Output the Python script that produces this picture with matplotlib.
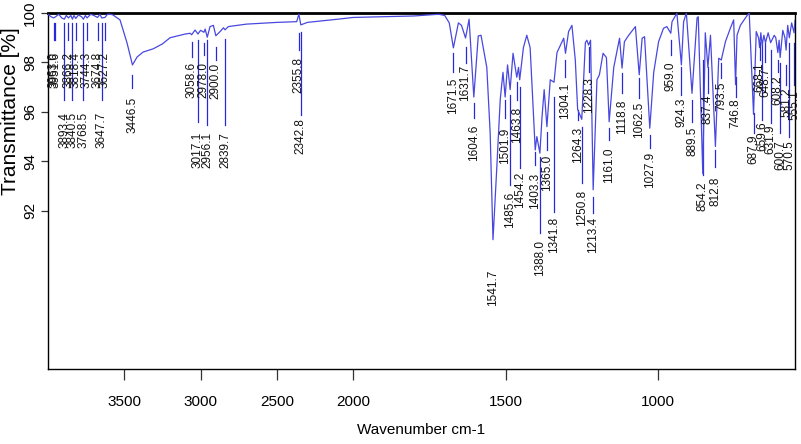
import numpy as np
import matplotlib
matplotlib.use("Agg")
import matplotlib.pyplot as plt

# ---------------- data ----------------
wavenumber = [4000, 3980, 3963, 3950, 3930, 3910, 3893, 3880, 3866, 3850, 3840, 3830,
              3818, 3800, 3780, 3768, 3755, 3744, 3720, 3700, 3675, 3660, 3648, 3627,
              3610, 3590, 3574, 3528, 3482, 3446.5, 3416, 3377, 3311, 3250, 3200, 3100,
              3068, 3058.6, 3036, 3017.1, 3000, 2978, 2970, 2956.1, 2938, 2916, 2900,
              2872, 2850, 2839.7, 2818, 2700, 2500, 2370, 2355.8, 2342.8, 2300, 2100,
              2000, 1900, 1800, 1720, 1700, 1685, 1671.5, 1655, 1645, 1631.7, 1620,
              1604.6, 1590, 1581, 1562, 1551, 1541.7, 1529, 1518, 1509, 1501.9, 1494,
              1485.6, 1476, 1463.8, 1458, 1454.2, 1442, 1431, 1420, 1403.3, 1398,
              1388.0, 1381, 1374, 1365.0, 1354, 1341.8, 1332, 1310, 1304.1, 1294, 1283,
              1272, 1264.3, 1250.8, 1239, 1234, 1228.3, 1222, 1213.4, 1201, 1193, 1181,
              1170, 1161.0, 1146, 1127, 1118.8, 1111, 1097, 1075, 1062.5, 1053, 1045,
              1027.9, 1015, 999, 983, 972, 959.0, 955, 939, 924.3, 917, 908, 889.5, 873,
              869, 854.2, 846, 837.4, 829, 812.8, 802, 793.5, 780, 764, 753, 746.8, 742,
              731, 709, 702, 687.9, 679, 671, 668.1, 664, 659.6, 654, 648.7, 640, 631.9,
              620, 615, 608.2, 604, 600.7, 592, 585, 581.2, 576, 570.5, 563, 555.1, 552]
transmittance = [99.95, 99.85, 99.80, 99.85, 99.95, 99.80, 99.75, 99.90, 99.80, 99.90, 99.75, 99.90,
                 99.78, 99.92, 99.85, 99.75, 99.90, 99.80, 99.95, 99.90, 99.82, 99.95, 99.80, 99.82,
                 99.95, 99.95, 99.92, 99.72, 98.79, 97.90, 98.22, 98.42, 98.55, 98.75, 99.0, 99.15,
                 99.18, 99.12, 99.31, 99.15, 99.30, 99.22, 99.35, 99.02, 99.45, 99.50, 99.08,
                 99.25, 99.40, 99.32, 99.45, 99.55, 99.62, 99.65, 99.95, 99.52, 99.62, 99.75,
                 99.82, 99.85, 99.88, 99.95, 99.90, 99.60, 98.59, 99.60, 99.50, 98.99, 99.75,
                 96.60, 99.07, 99.10, 97.80, 95.15, 90.83, 93.80, 96.50, 97.60, 96.60, 97.90,
                 96.90, 98.37, 97.40, 97.80, 97.30, 98.60, 99.10, 98.60, 94.46, 95.00,
                 94.33, 95.80, 96.90, 95.40, 97.30, 97.20, 98.40, 98.98, 98.37, 99.25, 99.50,
                 98.10, 96.10, 95.70, 98.80, 98.90, 98.70, 98.90, 92.85, 97.30, 97.50, 98.37,
                 98.20, 95.60, 97.80, 98.98, 97.77, 98.84, 99.10, 99.45, 97.50, 98.98, 99.04,
                 95.34, 97.60, 98.84, 99.38, 99.45, 99.18, 99.65, 99.99, 97.90, 99.65, 100.0, 96.75, 99.80,
                 99.85, 93.50, 99.20, 97.80, 99.10, 94.60, 98.17, 98.10, 98.84, 99.38, 99.72, 97.10, 99.10,
                 99.50, 99.90, 100.0, 95.90, 99.25, 98.98, 98.60, 99.20, 98.70, 99.10, 98.80, 99.20, 98.80,
                 99.10, 99.00, 98.40, 98.90, 98.20, 99.30, 99.00, 98.50, 99.50, 99.00, 99.60, 99.20, 99.70]

peak_wn = [3963.0, 3951.6, 3893.4, 3866.2, 3840.5, 3818.4, 3768.5, 3744.3, 3674.8, 3647.7,
           3627.2, 3446.5, 3058.6, 3017.1, 2978.0, 2956.1, 2900.0, 2839.7, 2355.8, 2342.8,
           1671.5, 1631.7, 1604.6, 1541.7, 1501.9, 1485.6, 1463.8, 1454.2, 1403.3, 1388.0,
           1365.0, 1341.8, 1304.1, 1264.3, 1250.8, 1228.3, 1213.4, 1161.0, 1118.8, 1062.5,
           1027.9, 959.0, 924.3, 889.5, 854.2, 837.4, 812.8, 793.5, 746.8, 687.9,
           668.1, 659.6, 648.7, 631.9, 608.2, 600.7, 581.2, 570.5, 555.1]

# annotation layout (transmittance units): marker line top / bottom, label top
line_top = [99.60, 99.60, 99.60, 99.60, 99.60, 99.60, 99.60, 99.60, 99.60, 99.60,
            99.60, 97.49, 98.83, 98.91, 98.79, 98.91, 98.63, 98.95, 99.19, 99.23,
            98.38, 98.63, 96.36, np.nan, 96.48, 96.69, 97.21, 97.01, 94.38, 94.18,
            95.19, 96.61, 98.10, 96.08, 95.39, 98.63, 92.57, 95.35, 97.58, 97.37,
            95.07, 98.91, 97.82, 96.48, 98.10, 97.82, 94.46, 97.98, 97.41, 95.96,
            98.83, 98.79, 98.79, 98.51, 98.10, 97.98, 97.90, 98.79, 98.79]
line_bottom = [98.91, 98.91, 96.48, 98.91, 96.48, 98.91, 96.48, 98.91, 98.91, 96.48,
               98.91, 96.97, 98.22, 95.60, 98.30, 95.47, 98.10, 95.47, 98.51, 95.88,
               97.62, 97.98, 95.76, np.nan, 95.76, 93.05, 96.48, 93.74, 93.86, 91.11,
               94.46, 91.96, 97.41, 95.68, 93.13, 97.62, 91.92, 94.87, 96.77, 96.57,
               94.55, 98.30, 96.69, 95.60, 93.45, 96.77, 93.78, 97.37, 96.61, 95.15,
               98.10, 95.68, 98.02, 95.56, 97.62, 95.15, 97.09, 94.99, 97.09]
label_top = [98.42, 98.42, 96.00, 98.42, 96.00, 98.42, 96.00, 98.42, 98.42, 96.00,
             98.42, 96.61, 98.02, 95.19, 98.02, 95.19, 97.98, 95.19, 98.22, 95.76,
             97.37, 97.90, 95.47, 89.62, 95.35, 92.77, 96.20, 93.58, 93.54, 90.83,
             94.26, 91.76, 97.17, 95.39, 92.85, 97.41, 91.76, 94.55, 96.48, 96.40,
             94.38, 98.02, 96.57, 95.39, 93.17, 96.69, 93.37, 97.21, 96.53, 95.07,
             98.02, 95.60, 97.82, 95.47, 97.49, 94.87, 96.97, 94.87, 96.89]

xticks = [3500, 3000, 2500, 2000, 1500, 1000]
yticks = [92, 94, 96, 98, 100]

# ---------------- plot ----------------
FONT = "Liberation Sans"
W, H = 801, 444
fig = plt.figure(figsize=(W / 100, H / 100), dpi=100)
ax = fig.add_axes([48 / W, 1 - 369 / H, (795 - 48) / W, (369 - 13) / H])


def fwd(x):
    x = np.asarray(x, dtype=float)
    return np.where(x > 2000, 2000 + (x - 2000) / 2.0, x)


def inv(u):
    u = np.asarray(u, dtype=float)
    return np.where(u > 2000, 2000 + (u - 2000) * 2.0, u)


ax.set_xscale("function", functions=(fwd, inv))
ax.plot(wavenumber, transmittance, color="#4848e0", lw=0.9, zorder=3)

for w, lt, lb, tt in zip(peak_wn, line_top, line_bottom, label_top):
    if not np.isnan(lt):
        ax.plot([w, w], [lt, lb], color="#2828d8", lw=0.9, zorder=2)
    ax.text(w, tt, f"{w:.1f}", rotation=90, ha="center", va="top",
            fontsize=8.5, family=FONT, color="#111111", zorder=4)

ax.set_xlim(4000, 552)
ax.set_ylim(85.6, 100)
ax.set_xticks(xticks)
ax.set_xticklabels([str(t) for t in xticks], family=FONT, fontsize=11)
ax.set_yticks(yticks)
ax.set_yticklabels([str(t) for t in yticks], family=FONT, fontsize=11,
                   rotation=90, va="center")
ax.xaxis.set_minor_locator(matplotlib.ticker.NullLocator())
ax.tick_params(axis="x", length=8, width=0.9, pad=11, color="#333333")
ax.tick_params(axis="y", length=5, width=0.9, pad=3, color="#333333")

for s in ["left", "bottom", "right"]:
    ax.spines[s].set_linewidth(1.0)
ax.spines["top"].set_linewidth(2.0)

ax.set_xlabel("Wavenumber cm-1", family=FONT, fontsize=11)
ax.xaxis.set_label_coords(0.5, -0.152)
ax.set_ylabel("Transmittance [%]", family=FONT, fontsize=15)
ax.yaxis.set_label_coords(-0.038, 0.725)

fig.savefig("out.png", dpi=100)
